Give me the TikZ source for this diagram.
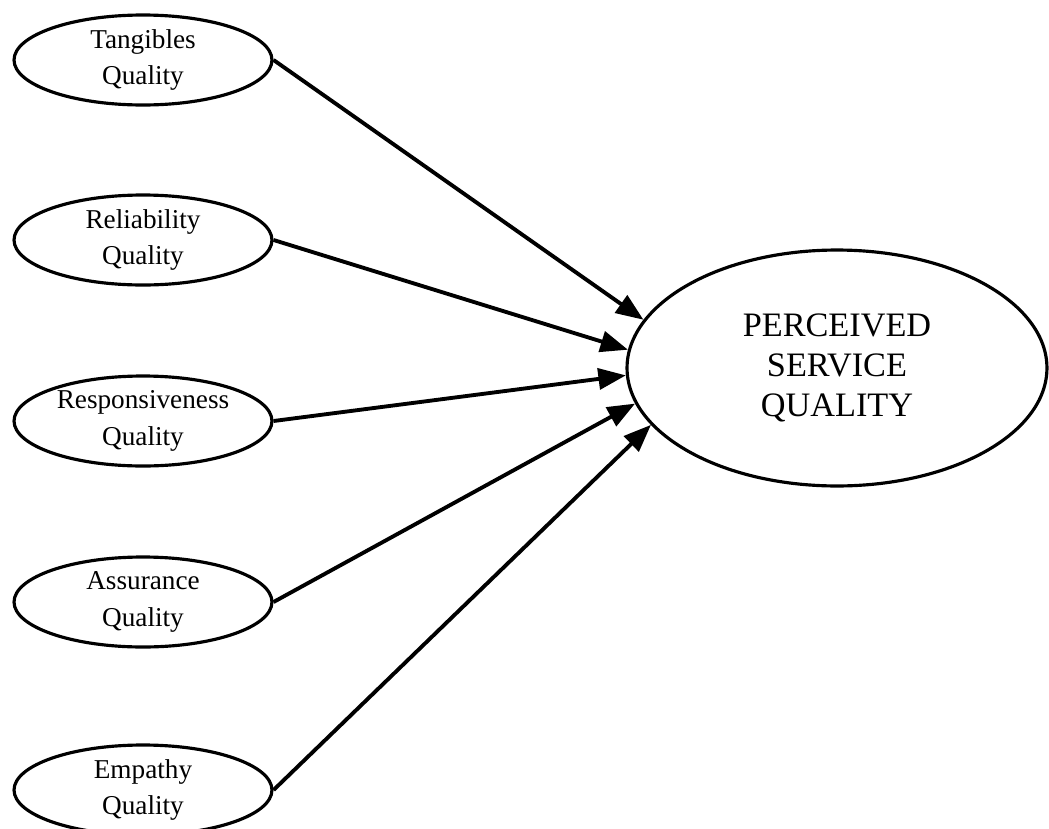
\documentclass[tikz,border=0pt]{standalone}
\usepackage{fontspec}
\setmainfont{Liberation Serif}
\usetikzlibrary{shapes.geometric,arrows.meta}

\begin{document}
\begin{tikzpicture}[x=0.02cm,y=-0.02cm,
        dim/.style={draw,ellipse,line width=1.8pt,inner sep=0pt,
            minimum width=5.16cm,minimum height=1.8cm,align=center,
            font=\fontsize{15.5}{21}\selectfont},
        psq/.style={draw,ellipse,line width=1.8pt,inner sep=0pt,
            minimum width=8.4cm,minimum height=4.72cm,align=center,
            font=\fontsize{19.5}{23}\selectfont},
        link/.style={line width=2.2pt,-{Triangle[length=5.5mm,width=4.2mm]}}]
        \useasboundingbox (0,0) rectangle (1049,829);
        % the five dimensions
        \foreach \Name/\Y/\Label in {tang/60/Tangibles, rel/240/Reliability,
            resp/421/Responsiveness, ass/602/Assurance, emp/790/Empathy}
        \node[dim] (\Name) at (143,\Y) {\Label\\Quality};
        \node[psq] (psq) at (837,368) {PERCEIVED\\SERVICE\\QUALITY};
        \foreach \Name/\Angle in {tang/166, rel/175, resp/182, ass/190, emp/197}
        \draw[link] (\Name.east) -- (psq.\Angle);
\end{tikzpicture}
\end{document}
